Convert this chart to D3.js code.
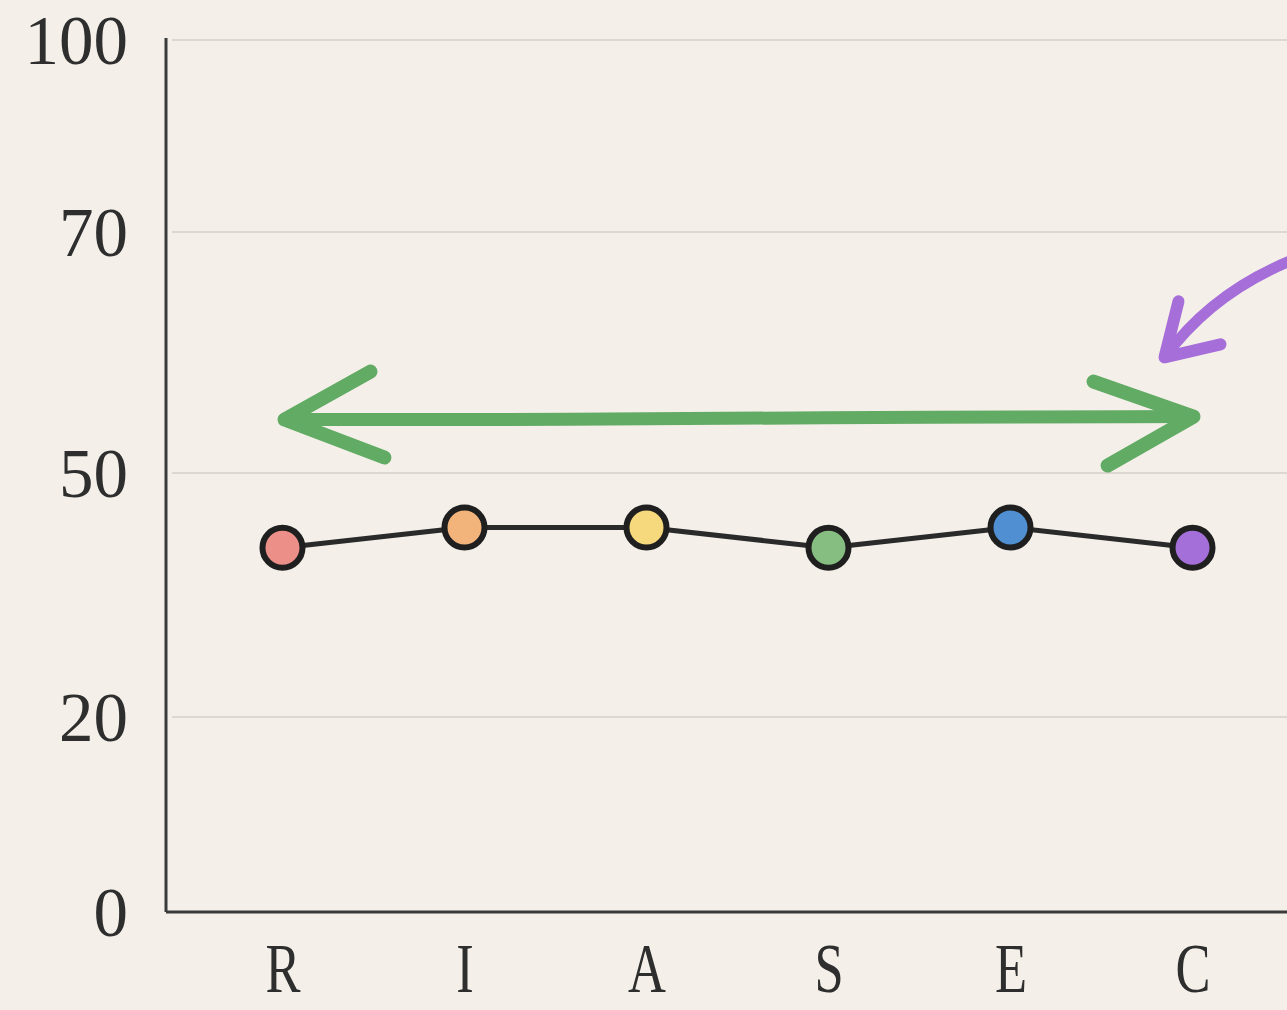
<!DOCTYPE html>
<html>
<head>
<meta charset="utf-8">
<script src="https://cdn.jsdelivr.net/npm/d3@7"></script>
<style>
  html, body { margin: 0; padding: 0; background: #f4f0e9; }
  svg { display: block; }
</style>
</head>
<body>
<div id="chart"></div>
<script>
// RIASEC profile values
var categories = ["R", "I", "A", "S", "E", "C"];
var scores = [40.8, 43.3, 43.3, 40.8, 43.3, 40.8];
var dotColors = ["#ec8f88", "#f3b47c", "#f5d97c", "#86bd80", "#4f8fd2", "#a46fd9"];
var yTicks = [0, 20, 50, 70, 100];

// annotation anchors (in data terms)
var spanArrow = { from: "R", to: "C", value: 54.6 };
var pointerArrow = { at: "C", value: 59.6 };

var width = 1287, height = 1010;

var svg = d3.select("#chart").append("svg")
  .attr("width", width)
  .attr("height", height);

svg.append("rect")
  .attr("width", width)
  .attr("height", height)
  .attr("fill", "#f4f0e9");

var x = d3.scalePoint()
  .domain(categories)
  .range([166, 1309])
  .padding(0.64);

// axis ticks are unevenly spaced, so piecewise linear
var y = d3.scaleLinear()
  .domain(yTicks)
  .range([912, 717, 473, 232, 40]);

// grid
svg.append("g")
  .selectAll("line")
  .data(yTicks.filter(function (d) { return d > 0; }))
  .enter()
  .append("line")
  .attr("x1", 172)
  .attr("x2", width)
  .attr("y1", function (d) { return y(d); })
  .attr("y2", function (d) { return y(d); })
  .attr("stroke", "#dcd8d1")
  .attr("stroke-width", 2);

// y axis
var yAxis = svg.append("g")
  .attr("transform", "translate(166,0)")
  .call(d3.axisLeft(y).tickValues(yTicks).tickSize(0).tickPadding(38));
yAxis.select(".domain")
  .attr("d", "M0," + (y(100) - 2) + "V" + y(0))
  .attr("stroke", "#3b3b3b")
  .attr("stroke-width", 3);
yAxis.selectAll("text")
  .attr("font-family", "'Liberation Serif', 'Times New Roman', serif")
  .attr("font-size", 69)
  .attr("fill", "#2e2e2e")
  .attr("dy", "0.34em");

// x axis
var xAxis = svg.append("g")
  .attr("transform", "translate(0," + y(0) + ")")
  .call(d3.axisBottom(x).tickSize(0));
xAxis.select(".domain")
  .attr("d", "M166,0H" + width)
  .attr("stroke", "#3b3b3b")
  .attr("stroke-width", 3);
xAxis.selectAll("text")
  .attr("font-family", "'Liberation Serif', 'Times New Roman', serif")
  .attr("font-size", 70)
  .attr("fill", "#2e2e2e")
  .attr("y", 80)
  .attr("dy", "0")
  .attr("transform", "scale(0.75,1)");

// green double arrow across the profile
var gy = y(spanArrow.value);
var gx0 = x(spanArrow.from) + 2;
var gx1 = x(spanArrow.to) + 1;
var green = svg.append("g")
  .attr("fill", "none")
  .attr("stroke", "#62ab64")
  .attr("stroke-linecap", "round")
  .attr("stroke-linejoin", "round");
green.append("path")
  .attr("stroke-width", 13)
  .attr("d", d3.line().curve(d3.curveBasis)([
    [gx0, gy + 2], [gx0 + 300, gy + 2], [gx1 - 400, gy], [gx1, gy - 1]
  ]));
green.append("path")
  .attr("stroke-width", 14)
  .attr("d", "M" + (gx0 + 86) + "," + (gy - 46) + "L" + gx0 + "," + (gy + 2) + "L" + (gx0 + 100) + "," + (gy + 40));
green.append("path")
  .attr("stroke-width", 14)
  .attr("d", "M" + (gx1 - 100) + "," + (gy - 36) + "L" + gx1 + "," + (gy - 1) + "L" + (gx1 - 86) + "," + (gy + 48));

// purple pointer arrow coming in from the right
var px = x(pointerArrow.at) - 28;
var py = y(pointerArrow.value);
var purple = svg.append("g")
  .attr("fill", "none")
  .attr("stroke", "#a66ed9")
  .attr("stroke-linecap", "round")
  .attr("stroke-linejoin", "round");
purple.append("path")
  .attr("stroke-width", 11)
  .attr("d", "M" + (px + 135) + "," + (py - 100) + "Q" + (px + 50) + "," + (py - 68) + " " + px + "," + py);
purple.append("path")
  .attr("stroke-width", 12)
  .attr("d", "M" + (px + 14) + "," + (py - 56) + "L" + px + "," + py + "L" + (px + 56) + "," + (py - 13));

// profile line
var line = d3.line()
  .x(function (d) { return x(d.cat); })
  .y(function (d) { return y(d.val); });
var points = categories.map(function (c, i) {
  return { cat: c, val: scores[i], color: dotColors[i] };
});

svg.append("path")
  .datum(points)
  .attr("fill", "none")
  .attr("stroke", "#2a2a2a")
  .attr("stroke-width", 5)
  .attr("stroke-linejoin", "round")
  .attr("d", line);

svg.append("g")
  .selectAll("circle")
  .data(points)
  .enter()
  .append("circle")
  .attr("cx", function (d) { return x(d.cat); })
  .attr("cy", function (d) { return y(d.val); })
  .attr("r", 20)
  .attr("fill", function (d) { return d.color; })
  .attr("stroke", "#1f1f1f")
  .attr("stroke-width", 6);
</script>
</body>
</html>
